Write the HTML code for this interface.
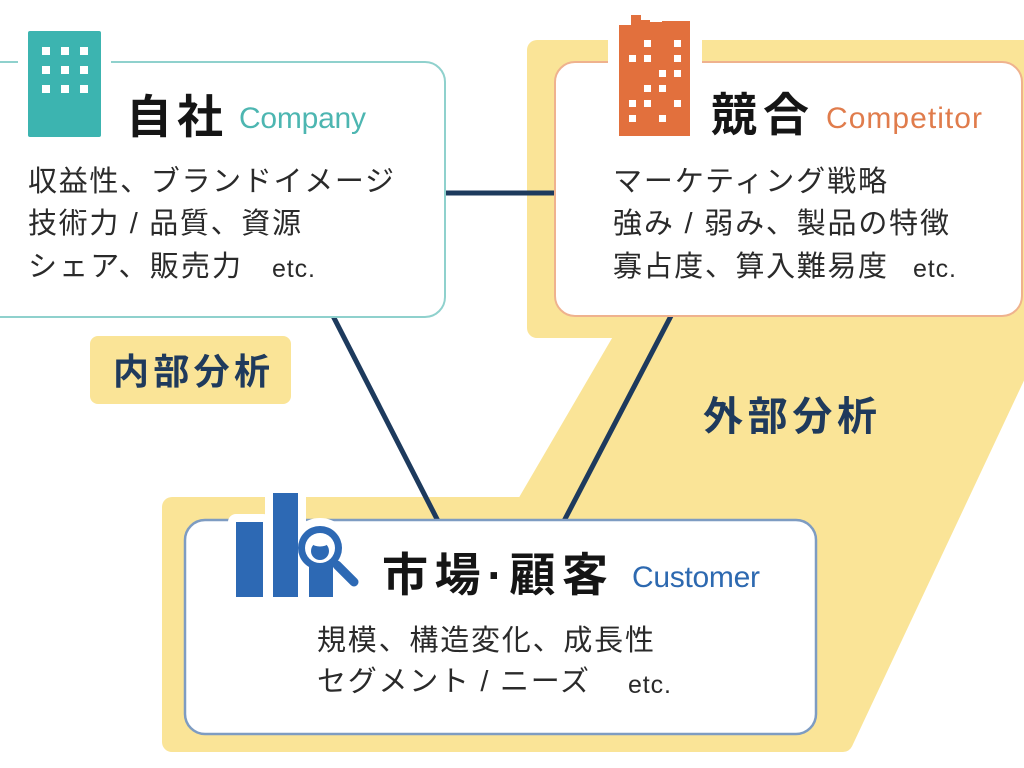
<!DOCTYPE html>
<html><head><meta charset="utf-8">
<style>
html,body{margin:0;padding:0;background:#fff;}
svg{display:block;}
text{font-family:"Liberation Sans","Noto Sans CJK JP",sans-serif;}
.t{font-weight:700;fill:#151515;font-size:46px;}
.b{font-size:29px;fill:#2a2a2a;}
.e{font-size:25px;fill:#2a2a2a;}
.en{font-size:30px;}
.lab{font-weight:700;fill:#1f3a5c;}
</style></head>
<body>
<svg width="1024" height="768" viewBox="0 0 1024 768" xmlns="http://www.w3.org/2000/svg">
  <!-- yellow background shape -->
  <polygon points="537,50 1040,50 1040,323 843,742 172,742 172,507 525,507 629.5,328 537,328"
    fill="#fae497" stroke="#fae497" stroke-width="20" stroke-linejoin="round"/>

  <!-- connectors -->
  <line x1="440" y1="193" x2="560" y2="193" stroke="#1d3a5d" stroke-width="5"/>
  <line x1="332" y1="314" x2="438" y2="521" stroke="#1d3a5d" stroke-width="5"/>
  <line x1="672" y1="314" x2="564" y2="521" stroke="#1d3a5d" stroke-width="5"/>

  <!-- Company box -->
  <rect x="-30" y="62" width="475" height="255" rx="20" fill="#fff" stroke="#8fd1cd" stroke-width="2"/>
  <rect x="18" y="55" width="93" height="14" fill="#fff"/>
  <rect x="28" y="31" width="73" height="106" rx="2" fill="#3cb4b0"/>
  <g fill="#fff">
    <rect x="42" y="47" width="8" height="8"/><rect x="61" y="47" width="8" height="8"/><rect x="80" y="47" width="8" height="8"/>
    <rect x="42" y="66" width="8" height="8"/><rect x="61" y="66" width="8" height="8"/><rect x="80" y="66" width="8" height="8"/>
    <rect x="42" y="85" width="8" height="8"/><rect x="61" y="85" width="8" height="8"/><rect x="80" y="85" width="8" height="8"/>
  </g>
  <text class="t" x="126" y="133" textLength="97" lengthAdjust="spacing">自社</text>
  <text class="en" x="239" y="128" fill="#4db6b1" textLength="127" lengthAdjust="spacing">Company</text>
  <text class="b" x="28" y="191" textLength="366" lengthAdjust="spacing">収益性、ブランドイメージ</text>
  <text class="b" x="28" y="233" textLength="273" lengthAdjust="spacing">技術力 / 品質、資源</text>
  <text class="b" x="28" y="276" textLength="213" lengthAdjust="spacing">シェア、販売力</text>
  <text class="e" x="272" y="277" textLength="43" lengthAdjust="spacing">etc.</text>

  <!-- Competitor box -->
  <rect x="555" y="62" width="467" height="254" rx="20" fill="#fff" stroke="#efb28e" stroke-width="2"/>
  <rect x="608" y="36" width="94" height="31" fill="#fff"/>
  <path d="M619,136 V25 H631 V15 H641 V20 H650 V22 H662 V21 H690 V136 Z" fill="#e2703d"/>
  <g fill="#fff">
    <rect x="644" y="40" width="7" height="7"/><rect x="674" y="40" width="7" height="7"/>
    <rect x="629" y="55" width="7" height="7"/><rect x="644" y="55" width="7" height="7"/><rect x="674" y="55" width="7" height="7"/>
    <rect x="659" y="70" width="7" height="7"/><rect x="674" y="70" width="7" height="7"/>
    <rect x="644" y="85" width="7" height="7"/><rect x="659" y="85" width="7" height="7"/>
    <rect x="629" y="100" width="7" height="7"/><rect x="644" y="100" width="7" height="7"/><rect x="674" y="100" width="7" height="7"/>
    <rect x="629" y="115" width="7" height="7"/><rect x="659" y="115" width="7" height="7"/>
  </g>
  <text class="t" x="711" y="131" textLength="98" lengthAdjust="spacing">競合</text>
  <text class="en" x="826" y="128" fill="#e07c4c" textLength="156" lengthAdjust="spacing">Competitor</text>
  <text class="b" x="613" y="191" textLength="274" lengthAdjust="spacing">マーケティング戦略</text>
  <text class="b" x="613" y="233" textLength="336" lengthAdjust="spacing">強み / 弱み、製品の特徴</text>
  <text class="b" x="613" y="276" textLength="274" lengthAdjust="spacing">寡占度、算入難易度</text>
  <text class="e" x="913" y="277" textLength="43" lengthAdjust="spacing">etc.</text>

  <!-- labels -->
  <rect x="90" y="336" width="201" height="68" rx="8" fill="#fae497"/>
  <text class="lab" x="113" y="384" font-size="36" textLength="157" lengthAdjust="spacing">内部分析</text>
  <text class="lab" x="703" y="430" font-size="40" textLength="174" lengthAdjust="spacing">外部分析</text>

  <!-- Customer box -->
  <rect x="185" y="520" width="631" height="214" rx="20" fill="#fff" stroke="#7e9cc2" stroke-width="2.5"/>
  <!-- icon halo -->
  <g fill="#fff" stroke="#fff" stroke-width="16" stroke-linejoin="round" stroke-linecap="round">
    <rect x="236" y="522" width="27" height="75"/>
    <rect x="273" y="493" width="25" height="104"/>
    <rect x="309" y="560" width="24" height="37"/>
    <circle cx="320" cy="548" r="22"/>
    <line x1="336" y1="564" x2="354" y2="582"/>
  </g>
  <g fill="#2d69b4">
    <rect x="236" y="522" width="27" height="75"/>
    <rect x="273" y="493" width="25" height="104"/>
    <rect x="309" y="560" width="24" height="37"/>
    <circle cx="320" cy="548" r="22"/>
  </g>
  <circle cx="320" cy="548" r="15" fill="#fff"/>
  <circle cx="320" cy="551" r="9" fill="#2d69b4"/>
  <ellipse cx="320" cy="544" rx="7" ry="2.5" fill="#fff"/>
  <line x1="337" y1="565" x2="354" y2="582" stroke="#2d69b4" stroke-width="9" stroke-linecap="round"/>

  <text class="t" x="382" y="591" textLength="226" lengthAdjust="spacing">市場·顧客</text>
  <text class="en" x="632" y="587" fill="#2d69b0" textLength="128" lengthAdjust="spacing">Customer</text>
  <text class="b" x="317" y="650" textLength="337" lengthAdjust="spacing">規模、構造変化、成長性</text>
  <text class="b" x="317" y="691" textLength="272" lengthAdjust="spacing">セグメント / ニーズ</text>
  <text class="e" x="628" y="693" textLength="43" lengthAdjust="spacing">etc.</text>
</svg>
</body></html>
